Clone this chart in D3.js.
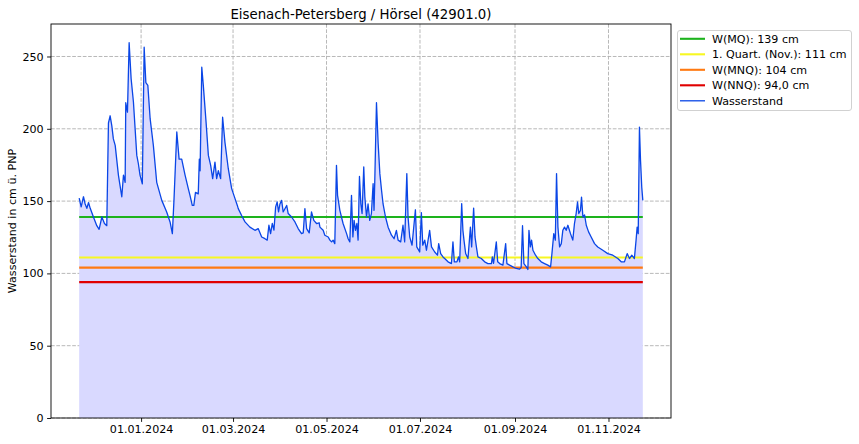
<!DOCTYPE html>
<html><head><meta charset="utf-8">
<script src="https://cdn.jsdelivr.net/npm/d3@7"></script>
<style>body{margin:0;background:#fff;} svg{display:block;font-family:"DejaVu Sans",sans-serif;}</style>
</head><body><svg id="c" width="859" height="444"></svg>
<script>
const title = "Eisenach-Petersberg / Hörsel (42901.0)";
const yLabel = "Wasserstand in cm ü. PNP";
// days since 2024-01-01 (UTC)
const dayOffsets = [
 -40.4,-39.1,-37.6,-36.5,-35.4,-34.3,-33.2,-31.1,-28.9,-27.4,
 -25.6,-23.9,-22.4,-21.3,-20.2,-19.1,-18.1,-16.9,-14.8,-12.6,
 -11.5,-10.4,-10.0,-8.9,-7.8,-6.5,-5.0,-2.8,-1.8,-0.7,
 0.8,2.0,3.1,4.4,5.9,8.0,10.2,13.5,16.7,18.9,
 20.4,21.5,23.3,24.8,26.5,28.7,30.8,31.9,33.4,34.4,
 35.5,37.3,38.0,38.5,39.6,40.6,42.4,43.9,45.4,46.7,
 48.2,49.3,50.4,51.9,53.2,54.7,56.9,59.1,61.3,62.8,
 63.4,65.6,67.8,71.0,74.3,76.4,78.7,80.8,82.3,83.4,
 84.5,85.6,86.7,87.8,88.8,89.7,90.6,91.7,92.7,95.0,
 96.0,98.2,100.4,102.5,104.7,105.8,106.9,108.0,109.7,111.2,
 112.7,114.5,116.2,116.7,118.8,119.9,122.1,123.2,124.3,125.3,
 126.4,127.5,128.2,129.7,131.8,134.1,135.1,136.2,137.3,138.2,
 139.0,139.9,140.8,141.6,142.5,143.4,144.2,145.3,146.0,147.1,
 148.1,149.2,150.3,151.4,152.0,152.5,153.6,154.7,155.8,156.9,
 157.9,159.5,161.2,163.4,165.1,166.6,167.7,169.4,170.9,172.0,
 173.4,174.2,175.3,176.8,179.0,179.9,181.8,182.9,183.8,185.1,
 186.2,188.3,189.5,191.6,193.4,194.2,195.5,197.0,198.1,200.3,
 202.5,203.5,204.4,206.1,207.1,207.9,209.2,210.0,210.7,211.8,
 213.3,214.9,215.7,217.0,217.9,218.8,219.8,222.0,224.2,226.3,
 228.6,229.2,230.0,231.8,232.7,234.0,236.1,237.9,238.7,240.5,
 242.6,244.8,247.0,248.0,248.9,249.8,251.4,252.4,253.1,254.0,
 254.8,255.7,257.4,258.9,261.1,263.3,265.4,267.2,268.0,269.3,
 270.3,271.1,272.0,273.1,274.2,275.2,276.3,277.4,278.5,280.2,
 281.7,282.8,283.9,284.8,285.6,286.7,287.4,288.3,289.4,290.5,
 292.0,293.7,295.9,298.0,301.3,304.5,307.8,311.1,313.3,315.4,
 317.2,318.7,320.2,321.9,323.0,323.7,324.4,325.2,325.9,326.7,
 327.4
];
// water level in cm
const levels = [
 152,146,153,148,145,149,145,139,133,130.5,
 139,134.5,133,204,209,202,193,188.5,168,153,
 168,163,218,211.5,259.5,234.6,218.5,181.6,176,168,
 162,256.4,232,230,207,188.5,163,150.5,142.5,135.6,
 127.5,151.7,197.8,179,179,168,158.6,154,147,147,
 156,155,179,171,242.6,230,204.6,181.6,174.7,165.5,
 177,165.5,171,165.5,208,190.8,172.4,158.6,151.7,147,
 144.8,140,135.6,132,129.8,131,125.2,124,123,133.3,
 127.5,134.5,130,146,149.4,142.5,148,150.5,142.5,147,
 141.4,139,135.6,131,127.5,128,144.8,131,128,142.5,
 136.7,134.5,135,132,129.8,126.4,125.2,123,121.8,123,
 120.6,174.7,154,143.6,134.5,127.5,124,121.8,154,125.2,
 136.7,129.8,134.5,123,167,148,141.4,173.6,153,139,
 148,136.7,141.4,162,143.6,164.4,218,189.7,169,157.5,
 148,139,132,126.4,124,129.8,123,121.8,133.3,121.8,
 169,139,125.2,119.5,144,118.3,114.8,142,119.5,123,
 116,129.8,118.3,114.8,112.6,120.6,113.7,111.4,110.3,108,
 106.8,121.8,108,108,111.4,108,148.3,129.8,123,113.7,
 110.3,132,118.3,145.2,125.2,118.3,111.4,110.3,108,106.8,
 106.8,111.4,107,121.8,108,106.8,105.7,120.6,106.8,105.7,
 104.5,103.4,103,104,133,106.8,104.5,102.7,129.8,118.3,
 123,116,112.6,110.3,108,106.8,105.7,104.5,112.6,127.5,
 123,169,132,118.3,120.6,129.8,132,129.8,133.3,127.5,
 123,134.5,141.4,149.4,141.4,143.6,152.8,139,140.4,133.3,
 128.7,125.2,120.6,118.3,116,113.7,112.6,110.3,108,108,
 113.7,110.3,112.6,110.3,123,132,127.5,201.2,178.2,159.7,
 150.5
];
const seriesName = "Wasserstand";
const refNames = ["W(MQ): 139 cm", "1. Quart. (Nov.): 111 cm", "W(MNQ): 104 cm", "W(NNQ): 94,0 cm"];
const refValues = [139, 111, 104, 94];
const refColors = ["#1db31d", "#f7f722", "#ff7a12", "#e00000"];
const yTicks = [0, 50, 100, 150, 200, 250];
const xTickDates = ["2024-01-01", "2024-03-01", "2024-05-01", "2024-07-01", "2024-09-01", "2024-11-01"];

const DAY = 864e5, ref0 = Date.UTC(2024, 0, 1);
const data = dayOffsets.map((d, i) => ({ t: new Date(ref0 + d * DAY), v: levels[i] }));

const L = 51, R = 671, T = 24, B = 418;
const svg = d3.select("#c");
const t0 = data[0].t, t1 = data[data.length - 1].t;
const span = t1 - t0;
const x = d3.scaleUtc().domain([new Date(+t0 - span * 0.05), new Date(+t1 + span * 0.05)]).range([L, R]);
const y = d3.scaleLinear().domain([0, d3.max(levels) * 1.05]).range([B, T]);
const xt = xTickDates.map(s => new Date(s + "T00:00:00Z"));
const fs = 11.1;

// grid
const g = svg.append("g");
g.selectAll(".gx").data(xt).join("line").attr("x1", d => x(d)).attr("x2", d => x(d)).attr("y1", T).attr("y2", B)
  .attr("stroke", "#b0b0b0").attr("stroke-width", 0.9).attr("stroke-dasharray", "3.7,1.6");
g.selectAll(".gy").data(yTicks).join("line").attr("x1", L).attr("x2", R).attr("y1", d => y(d)).attr("y2", d => y(d))
  .attr("stroke", "#b0b0b0").attr("stroke-width", 0.9).attr("stroke-dasharray", "3.7,1.6");

// fill
svg.append("path").datum(data)
  .attr("d", d3.area().x(d => x(d.t)).y0(y(0)).y1(d => y(d.v)))
  .attr("fill", "rgb(217,217,255)");

// reference lines
refValues.forEach((v, i) => {
  svg.append("line").attr("x1", x(t0)).attr("x2", x(t1)).attr("y1", y(v)).attr("y2", y(v))
    .attr("stroke", refColors[i]).attr("stroke-width", 2.1);
});

// water level line
svg.append("path").datum(data)
  .attr("d", d3.line().x(d => x(d.t)).y(d => y(d.v)))
  .attr("fill", "none").attr("stroke", "#0a46e6").attr("stroke-width", 1.3).attr("stroke-linejoin", "round");

// axes
const fmt = d3.utcFormat("%d.%m.%Y");
const ax = svg.append("g").attr("transform", `translate(0,${B})`)
  .call(d3.axisBottom(x).tickValues(xt).tickFormat(fmt).tickSize(3.9).tickPadding(3.5));
const ay = svg.append("g").attr("transform", `translate(${L},0)`)
  .call(d3.axisLeft(y).tickValues(yTicks).tickFormat(d3.format("d")).tickSize(3.9).tickPadding(3.5));
[ax, ay].forEach(a => {
  a.select(".domain").remove();
  a.selectAll("text").attr("font-size", fs).attr("font-family", "DejaVu Sans").attr("fill", "#000");
  a.selectAll("line").attr("stroke", "#000").attr("stroke-width", 0.9);
});
svg.append("rect").attr("x", L).attr("y", T).attr("width", R - L).attr("height", B - T)
  .attr("fill", "none").attr("stroke", "#000").attr("stroke-width", 0.9);

// title & label
svg.append("text").attr("x", (L + R) / 2).attr("y", 18.5).attr("text-anchor", "middle")
  .attr("font-size", 13.3).text(title);
svg.append("text").attr("transform", `translate(15.5,${(T + B) / 2}) rotate(-90)`).attr("text-anchor", "middle")
  .attr("font-size", fs).text(yLabel);

// legend
const lg = svg.append("g");
lg.append("rect").attr("x", 677.5).attr("y", 30.5).attr("width", 174).attr("height", 80).attr("rx", 2.5)
  .attr("fill", "#fff").attr("fill-opacity", 0.8).attr("stroke", "#cccccc").attr("stroke-width", 0.9);
const items = refNames.map((n, i) => ({ n, c: refColors[i], w: 2.1 })).concat([{ n: seriesName, c: "#0a46e6", w: 1.3 }]);
items.forEach((it, i) => {
  const cy = 38.8 + i * 15.5;
  lg.append("line").attr("x1", 680).attr("x2", 705).attr("y1", cy).attr("y2", cy).attr("stroke", it.c).attr("stroke-width", it.w);
  lg.append("text").attr("x", 712).attr("y", cy + 4).attr("font-size", fs).text(it.n);
});
</script></body></html>
